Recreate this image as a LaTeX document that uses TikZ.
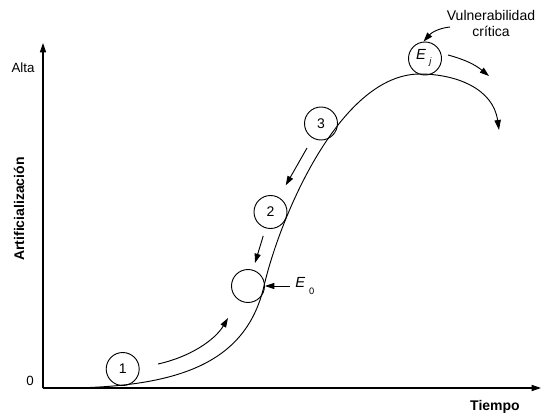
\documentclass[tikz,border=0pt]{standalone}
\usepackage{fontspec}
\setmainfont{Liberation Sans}
\usetikzlibrary{arrows.meta}
\begin{document}
\begin{tikzpicture}[x=0.75pt,y=-0.75pt,
  ln/.style={line width=0.7pt},
  tip/.style={-{Triangle[length=7pt,width=4.6pt]}},
  circ/.style={circle,draw,line width=0.7pt,minimum size=24.75pt,inner sep=0pt,font=\fontsize{10.5}{12}\selectfont},
  lbl/.style={font=\fontsize{10}{12}\selectfont,inner sep=0pt},
  blbl/.style={font=\fontsize{10.5}{12}\selectfont\bfseries,inner sep=0pt}]
\useasboundingbox (0,0) rectangle (545,416);
% axes
\coordinate (o) at (43,388);
\coordinate (ytop) at (43,43);
\coordinate (xend) at (541,388);
\draw[line width=0.8pt,tip] (o) -- (ytop);
\draw[line width=0.8pt,tip] (o) -- (xend);
\node[lbl] (alta) at (23,68) {Alta};
\node[lbl] (zero) at (30,381) {0};
\node[blbl,rotate=90] (ylab) at (19,209) {Artificialización};
\node[blbl] (xlab) at (495,407) {Tiempo};
% circles
\node[circ] (c1) at (122.7,369) {1};
\node[circ] (c2) at (270.5,212) {2};
\node[circ] (c3) at (321,123.5) {3};
\node[circ] (e0) at (248,286) {};
\node[circ] (ej) at (425,58.5) {};
\node[lbl,font=\fontsize{11}{12}\selectfont] (ejtxt) at (424,58) {\textit{E}\hspace{2.5pt}\raisebox{-4pt}{\fontsize{7}{8}\selectfont\textit{j}}};
% main curve
\coordinate (m1) at (264,286);
\coordinate (m2) at (420,74);
\coordinate (m3) at (499,130);
\draw[ln,-{Triangle[length=7.5pt,width=4.8pt]}] (o)
  .. controls (170,390) and (245,368) .. (m1)
  .. controls (280,217) and (340,74) .. (m2)
  .. controls (455,74) and (493,88) .. (m3);
% arrows between stages
\draw[ln,tip,shorten <=8.5pt,shorten >=10.3pt] (c3) -- (c2);
\draw[ln,tip,shorten <=6pt,shorten >=5.3pt] (c2) -- (e0);
\coordinate (a1s) at (158,364);
\coordinate (a1e) at (228,318);
\draw[ln,tip] (a1s) .. controls (190,357) and (215,340) .. (a1e);
% E0 label
\node[lbl,font=\fontsize{11}{12}\selectfont,anchor=west] (e0lab) at (295,286) {\textit{E}\hspace{3pt}\raisebox{-5pt}{\fontsize{7}{8}\selectfont 0}};
\draw[ln,tip,shorten <=4pt] (e0lab.west) -- (e0.east);
% Ej arrows
\coordinate (ejs) at (448,55);
\coordinate (eje) at (489,76);
\draw[ln,tip] (ejs) to[bend left=12] (eje);
\node[lbl,font=\fontsize{10.5}{12.75}\selectfont,align=center] (vul) at (491,23.5) {Vulnerabilidad\\crítica};
\coordinate (vs) at (450,27);
\draw[ln,tip] (vs) .. controls (440,28) and (432,32) .. (ej.95);
\end{tikzpicture}
\end{document}
